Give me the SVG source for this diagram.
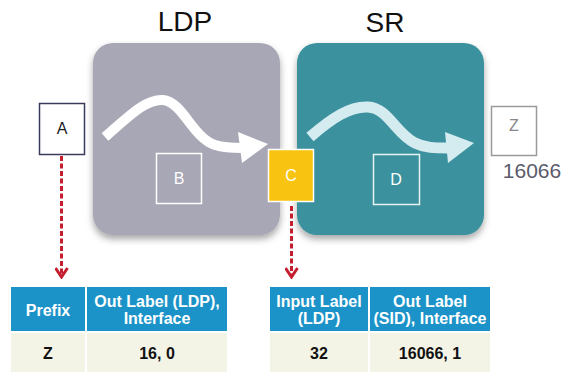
<svg xmlns="http://www.w3.org/2000/svg" width="565" height="372" viewBox="0 0 565 372">
  <defs>
    <filter id="shadow" x="-10%" y="-10%" width="120%" height="125%">
      <feDropShadow dx="0" dy="4" stdDeviation="3.5" flood-color="#000" flood-opacity="0.35"/>
    </filter>
    <marker id="chev" viewBox="0 0 12 14" refX="10" refY="7" markerWidth="12" markerHeight="14" markerUnits="userSpaceOnUse" orient="auto">
      <path d="M1,1 L10,7 L1,13" fill="none" stroke="#c41f2f" stroke-width="3"/>
    </marker>
  </defs>
  <style>
    .title { font-family: "Liberation Sans", Arial, sans-serif; font-size: 28px; fill: #111; text-anchor: middle; }
    .lbl { font-family: "Liberation Sans", Arial, sans-serif; font-size: 16px; text-anchor: middle; }
    .th { font-family: "Liberation Sans", Arial, sans-serif; font-size: 16px; font-weight: bold; fill: #fff; text-anchor: middle; }
    .td { font-family: "Liberation Sans", Arial, sans-serif; font-size: 16px; font-weight: bold; fill: #111; text-anchor: middle; }
    .head { fill: #1b93c8; }
    .cell { fill: #f4f4e6; }
    .dash { fill: none; stroke: #c41f2f; stroke-width: 3; stroke-dasharray: 5 2.5; }
  </style>

  <!-- domain titles -->
  <text class="title" x="185" y="31">LDP</text>
  <text class="title" x="385" y="32">SR</text>

  <!-- LDP domain -->
  <g id="ldp-domain">
    <rect x="93" y="43" width="187" height="192" rx="20" fill="#a8a7b5" filter="url(#shadow)"/>
    <path d="M105,137 C128,117 145,99 163,100 C183,102 192,137 215,145 C225,148 232,148 242,148" fill="none" stroke="#fff" stroke-width="10"/>
    <polygon points="238,132 268,144 242,163" fill="#fff"/>
  </g>

  <!-- SR domain -->
  <g id="sr-domain">
    <rect x="297" y="43" width="187" height="192" rx="20" fill="#3a919e" filter="url(#shadow)"/>
    <path d="M310,137 C332,118 350,106 368,107 C388,108 396,134 415,143 C425,148 435,148 448,148" fill="none" stroke="#d4ecf0" stroke-width="11"/>
    <polygon points="445,132 474,143 448,163" fill="#d4ecf0"/>
  </g>

  <!-- routers -->
  <g id="node-a">
    <rect x="39.5" y="103.5" width="45" height="51" fill="#fff" stroke="#3a3a5c" stroke-width="1.5"/>
    <text class="lbl" x="62" y="134" fill="#222">A</text>
  </g>
  <g id="node-b">
    <rect x="156.5" y="153.5" width="45" height="50" fill="none" stroke="#fff" stroke-width="1.5"/>
    <text class="lbl" x="179" y="184" fill="#fff">B</text>
  </g>
  <g id="node-c">
    <rect x="268.5" y="149.5" width="45" height="52" fill="#f8c311" stroke="#fff" stroke-width="1.5"/>
    <text class="lbl" x="291" y="181" fill="#fff">C</text>
  </g>
  <g id="node-d">
    <rect x="373.5" y="154.5" width="46" height="50" fill="none" stroke="#e6f4f4" stroke-width="1.5"/>
    <text class="lbl" x="396" y="185" fill="#fff">D</text>
  </g>
  <g id="node-z">
    <rect x="491.5" y="106.5" width="45" height="49" fill="#fff" stroke="#9a9a9a" stroke-width="1.5"/>
    <text class="lbl" x="514" y="131" fill="#888">Z</text>
    <text x="532" y="178" font-family="Liberation Sans, Arial, sans-serif" font-size="21" fill="#5b5b6b" text-anchor="middle">16066</text>
  </g>

  <!-- connectors -->
  <g id="connectors">
    <line class="dash" x1="61.5" y1="156" x2="61.5" y2="277" marker-end="url(#chev)"/>
    <line class="dash" x1="291.5" y1="206" x2="291.5" y2="277" marker-end="url(#chev)"/>
  </g>

  <!-- forwarding table at A -->
  <g id="table-a">
    <rect class="head" x="11" y="287" width="74" height="44"/>
    <rect class="head" x="87" y="287" width="140" height="44"/>
    <rect class="cell" x="11" y="333" width="74" height="39"/>
    <rect class="cell" x="87" y="333" width="140" height="39"/>
    <text class="th" x="48" y="316">Prefix</text>
    <text class="th" x="157" y="307">Out Label (LDP),</text>
    <text class="th" x="157" y="324">Interface</text>
    <text class="td" x="48" y="359">Z</text>
    <text class="td" x="157" y="359">16, 0</text>
  </g>

  <!-- forwarding table at C -->
  <g id="table-c">
    <rect class="head" x="270" y="287" width="98" height="44"/>
    <rect class="head" x="370" y="287" width="120" height="44"/>
    <rect class="cell" x="270" y="333" width="98" height="39"/>
    <rect class="cell" x="370" y="333" width="120" height="39"/>
    <text class="th" x="319" y="307">Input Label</text>
    <text class="th" x="319" y="324">(LDP)</text>
    <text class="th" x="430" y="307">Out Label</text>
    <text class="th" x="430" y="324">(SID), Interface</text>
    <text class="td" x="319" y="359">32</text>
    <text class="td" x="430" y="359">16066, 1</text>
  </g>
</svg>
